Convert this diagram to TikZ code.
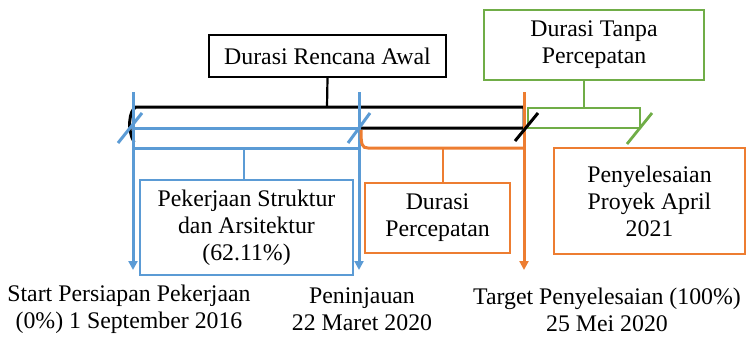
\documentclass[tikz,border=0pt]{standalone}
\usepackage{fontspec}
\setmainfont{Liberation Serif}
\usetikzlibrary{arrows.meta}
\definecolor{cblue}{HTML}{5B9BD5}
\definecolor{corange}{HTML}{ED7D31}
\definecolor{cgreen}{HTML}{70AD47}
\begin{document}
\begin{tikzpicture}[x=1pt,y=-1pt,
  every node/.style={font=\fontsize{23.8}{27}\selectfont, align=center, inner sep=0pt},
  box/.style={draw, line width=2pt, fill=white},
  bl/.style={draw=cblue, line width=3pt},
  ol/.style={draw=corange, line width=3pt},
  gl/.style={draw=cgreen, line width=2.8pt},
  kl/.style={draw=black, line width=3pt},
  tip/.style={-{Triangle[width=9pt,length=9pt]}}]
\useasboundingbox (0,0) rectangle (751,337);
% boxes
\node[box, draw=black, minimum width=237pt, minimum height=42pt] (ra) at (327.5,56) {Durasi Rencana Awal};
\node[box, draw=cgreen, line width=2.6pt, minimum width=220pt, minimum height=70pt] (tp) at (594,45) {Durasi Tanpa\\Percepatan};
\node[box, draw=cblue, line width=2.6pt, minimum width=213pt, minimum height=95pt] (ps) at (246.5,227.5) {Pekerjaan Struktur\\dan Arsitektur\\(62.11\%)};
\node[box, draw=corange, line width=2.6pt, minimum width=145pt, minimum height=70pt] (dp) at (437.5,218) {Durasi\\Percepatan};
\node[box, draw=corange, line width=2.6pt, minimum width=191pt, minimum height=106pt] (pp) at (649.5,201) {Penyelesaian\\Proyek April\\2021};
% bottom labels
\node (st) at (129,309.5) {Start Persiapan Pekerjaan\\(0\%) 1 September 2016};
\node (pn) at (362,309.5) {Peninjauan\\22 Maret 2020};
\node (tg) at (607,309.5) {Target Penyelesaian (100\%)\\25 Mei 2020};
% coordinates
\coordinate (ka) at (327,107);
\coordinate (ga) at (584,108);
\coordinate (ba) at (244,148);
\coordinate (oa) at (443,148);
% black brace
\draw[kl] (134,142) .. controls (127,130) and (129,110) .. (136,107) -- (524,107) -- (524,128) -- (360,128);
\draw[kl, line width=2.2pt] (ra.south) -- (ka);
% green bracket
\draw[gl] (528,108) rectangle (640,128);
\draw[gl] (ga |- tp.south) -- (ga);
\draw[gl] (627,144) -- (652,113);
% blue
\draw[bl] (133,128) -- (359,128);
\draw[bl] (133,148) -- (359,148);
\draw[bl, line width=2.6pt] (ba) -- (ba |- ps.north);
\draw[bl, tip] (133,92) -- (133,270);
\draw[bl, tip] (359,92) -- (359,270);
\draw[bl] (118,143) -- (142,113);
\draw[bl] (348,143) -- (370,113);
% orange
\draw[ol] (361,130) .. controls (361,145) and (362,148) .. (368,148) -- (524,148);
\draw[ol, line width=2.6pt] (oa) -- (oa |- dp.north);
\draw[ol, tip] (524,92) -- (524,270);
% black slash
\draw[kl] (515,141) -- (538,113);
\end{tikzpicture}
\end{document}
